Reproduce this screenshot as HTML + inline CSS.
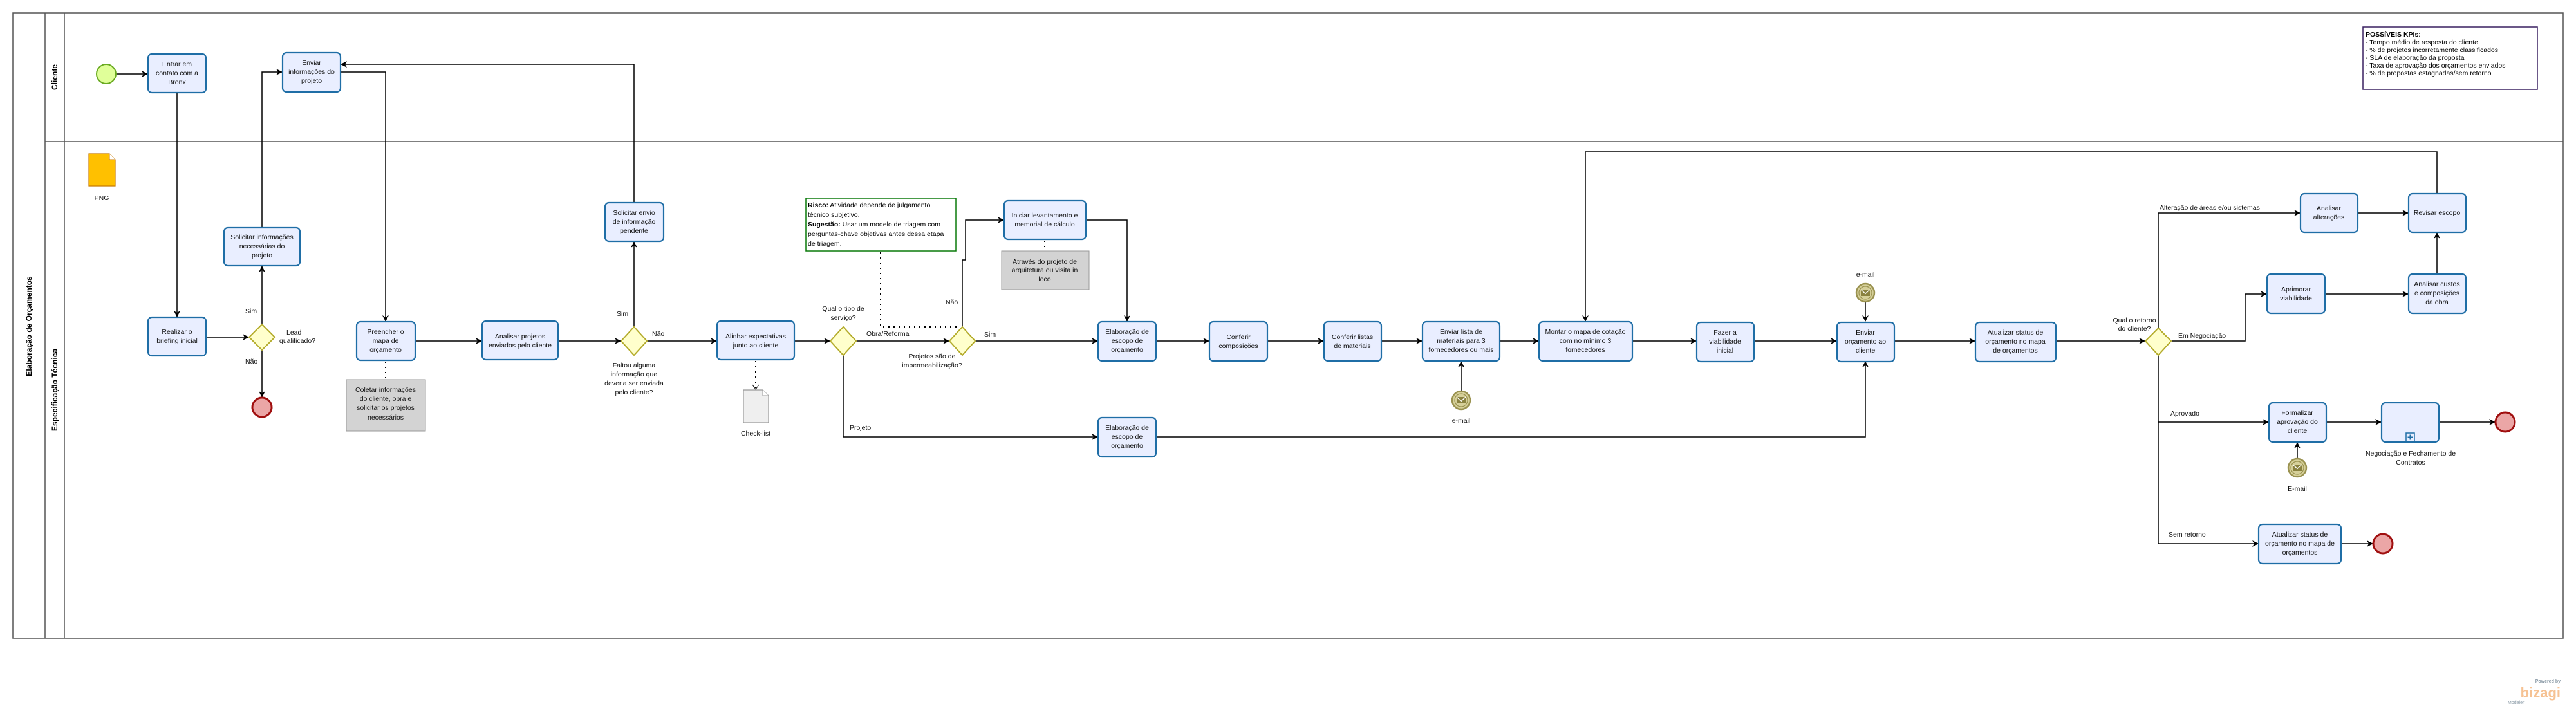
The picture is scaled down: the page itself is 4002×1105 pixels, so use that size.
<!DOCTYPE html>
<html><head><meta charset="utf-8"><style>
html,body{margin:0;padding:0;background:#fff;}
svg{display:block;font-family:"Liberation Sans",sans-serif;}
.t{fill:#e9eeff;stroke:#1f6ea6;stroke-width:2.2;}
.g{fill:#ffffcc;stroke:#b3ab2a;stroke-width:2;}
.c{fill:none;stroke:#000;stroke-width:1.5;}
.d{fill:none;stroke:#000;stroke-width:2;stroke-dasharray:2,6;}
.lbl{font-size:10.5px;fill:#111;}
.bt{font-size:10.5px;fill:#111;text-anchor:middle;}
.note{fill:#d3d3d3;stroke:#999;stroke-width:1;}
</style></head><body>
<svg width="4002" height="1105" viewBox="0 0 4002 1105" xmlns="http://www.w3.org/2000/svg">
<defs>
<marker id="a" markerWidth="10" markerHeight="10" refX="9" refY="5" orient="auto" markerUnits="userSpaceOnUse">
<path d="M0,0 L10,5 L0,10 L3,5 Z" fill="#000"/></marker>
<g id="env"><circle r="14" fill="#d6d09a" stroke="#9a9250" stroke-width="2.5"/><circle r="10" fill="none" stroke="#9a9250" stroke-width="1.2"/><rect x="-7" y="-5" width="14" height="10" fill="#8a8240"/><path d="M-7,-5 L0,1.5 L7,-5" stroke="#fff" fill="none" stroke-width="1.2"/></g>
</defs>

<rect x="20" y="20" width="3962" height="972" fill="none" stroke="#555" stroke-width="1.5"/>
<line x1="70" y1="20" x2="70" y2="992" stroke="#555" stroke-width="1.5"/>
<line x1="100" y1="20" x2="100" y2="992" stroke="#555" stroke-width="1.5"/>
<line x1="70" y1="220" x2="3982" y2="220" stroke="#555" stroke-width="1.5"/>
<text transform="translate(49,507) rotate(-90)" text-anchor="middle" font-size="12" font-weight="bold">Elaboração de Orçamentos</text>
<text transform="translate(89,120) rotate(-90)" text-anchor="middle" font-size="12" font-weight="bold">Cliente</text>
<text transform="translate(89,606) rotate(-90)" text-anchor="middle" font-size="12" font-weight="bold">Especificação Técnica</text>

<rect x="3671" y="42" width="271" height="97" fill="#fff" stroke="#3a2060" stroke-width="1.5"/>
<text x="3675" y="57" font-size="10.5" font-weight="bold">POSSÍVEIS KPIs:</text>
<text x="3675" y="69" font-size="10.5">- Tempo médio de resposta do cliente</text>
<text x="3675" y="81" font-size="10.5">- % de projetos incorretamente classificados</text>
<text x="3675" y="93" font-size="10.5">- SLA de elaboração da proposta</text>
<text x="3675" y="105" font-size="10.5">- Taxa de aprovação dos orçamentos enviados</text>
<text x="3675" y="117" font-size="10.5">- % de propostas estagnadas/sem retorno</text>

<path class="c" d="M180,115 L229,115" marker-end="url(#a)"/>
<path class="c" d="M275,144 L275,492" marker-end="url(#a)"/>
<path class="c" d="M320,524 L386,524" marker-end="url(#a)"/>
<path class="c" d="M407,504 L407,414" marker-end="url(#a)"/>
<path class="c" d="M407,544 L407,617" marker-end="url(#a)"/>
<path class="c" d="M407,354 L407,112 L438,112" marker-end="url(#a)"/>
<path class="c" d="M529,112 L599,112 L599,499" marker-end="url(#a)"/>
<path class="c" d="M645,530 L748,530" marker-end="url(#a)"/>
<path class="c" d="M867,530 L964,530" marker-end="url(#a)"/>
<path class="c" d="M985,508 L985,376" marker-end="url(#a)"/>
<path class="c" d="M985,315 L985,100 L530,100" marker-end="url(#a)"/>
<path class="c" d="M1005,530 L1113,530" marker-end="url(#a)"/>
<path class="c" d="M1234,530 L1289,530" marker-end="url(#a)"/>
<path class="c" d="M1330,530 L1474,530" marker-end="url(#a)"/>
<path class="c" d="M1495,508 L1495,404 L1500,404 L1500,342 L1559,342" marker-end="url(#a)"/>
<path class="c" d="M1687,342 L1751,342 L1751,499" marker-end="url(#a)"/>
<path class="c" d="M1515,530 L1705,530" marker-end="url(#a)"/>
<path class="c" d="M1796,530 L1878,530" marker-end="url(#a)"/>
<path class="c" d="M1969,530 L2056,530" marker-end="url(#a)"/>
<path class="c" d="M2146,530 L2209,530" marker-end="url(#a)"/>
<path class="c" d="M2330,530 L2390,530" marker-end="url(#a)"/>
<path class="c" d="M2536,530 L2635,530" marker-end="url(#a)"/>
<path class="c" d="M2725,530 L2853,530" marker-end="url(#a)"/>
<path class="c" d="M2943,530 L3068,530" marker-end="url(#a)"/>
<path class="c" d="M3194,530 L3332,530" marker-end="url(#a)"/>
<path class="c" d="M2270,608 L2270,562" marker-end="url(#a)"/>
<path class="c" d="M2898,469 L2898,499" marker-end="url(#a)"/>
<path class="c" d="M1310,550 L1310,679 L1705,679" marker-end="url(#a)"/>
<path class="c" d="M1796,679 L2898,679 L2898,562" marker-end="url(#a)"/>
<path class="c" d="M3353,510 L3353,331 L3573,331" marker-end="url(#a)"/>
<path class="c" d="M3663,331 L3741,331" marker-end="url(#a)"/>
<path class="c" d="M3786,426 L3786,362" marker-end="url(#a)"/>
<path class="c" d="M3786,301 L3786,236 L2463,236 L2463,499" marker-end="url(#a)"/>
<path class="c" d="M3374,530 L3488,530 L3488,457 L3521,457" marker-end="url(#a)"/>
<path class="c" d="M3612,457 L3741,457" marker-end="url(#a)"/>
<path class="c" d="M3353,552 L3353,845 L3508,845" marker-end="url(#a)"/>
<path class="c" d="M3353,656 L3524,656" marker-end="url(#a)"/>
<path class="c" d="M3614,656 L3699,656" marker-end="url(#a)"/>
<path class="c" d="M3789,656 L3876,656" marker-end="url(#a)"/>
<path class="c" d="M3569,713 L3569,688" marker-end="url(#a)"/>
<path class="c" d="M3637,845 L3686,845" marker-end="url(#a)"/>

<path class="d" d="M599,562 L599,590"/>
<path class="d" d="M1174,561 L1174,604"/>
<path d="M1169,598 L1174,605 L1179,598" fill="none" stroke="#000"/>
<path class="d" d="M1368,392 L1368,508 L1490,508"/>
<path class="d" d="M1623,374 L1623,390"/>

<circle cx="165" cy="115" r="15" fill="#e0ff99" stroke="#6aaa22" stroke-width="2"/>
<circle cx="407" cy="633" r="15" fill="#eba6a6" stroke="#a00f0f" stroke-width="3"/>
<circle cx="3892" cy="656" r="15" fill="#eba6a6" stroke="#a00f0f" stroke-width="3"/>
<circle cx="3702" cy="845" r="15" fill="#eba6a6" stroke="#a00f0f" stroke-width="3"/>
<use href="#env" x="2270" y="622"/>
<use href="#env" x="2898" y="455"/>
<use href="#env" x="3569" y="727"/>
<text class="bt" x="2270" y="657">e-mail</text>
<text class="bt" x="2898" y="430">e-mail</text>
<text class="bt" x="3569" y="763">E-mail</text>

<path class="g" d="M407,504 L427,524 L407,544 L387,524 Z"/>
<path class="g" d="M985,508 L1005,530 L985,552 L965,530 Z"/>
<path class="g" d="M1310,508 L1330,530 L1310,552 L1290,530 Z"/>
<path class="g" d="M1495,508 L1515,530 L1495,552 L1475,530 Z"/>
<path class="g" d="M3353,510 L3373,530 L3353,552 L3333,530 Z"/>

<path d="M138,239 L170,239 L179,248 L179,289 L138,289 Z" fill="#ffc000" stroke="#c87a00" stroke-width="1.2"/>
<path d="M170,239 L170,248 L179,248" fill="#fff" stroke="#c87a00"/>
<text class="bt" x="158" y="311">PNG</text>
<path d="M1155,606 L1185,606 L1194,615 L1194,657 L1155,657 Z" fill="#efefef" stroke="#999" stroke-width="1.2"/>
<path d="M1185,606 L1185,615 L1194,615" fill="#fff" stroke="#999"/>
<text class="bt" x="1174" y="677">Check-list</text>

<rect class="note" x="538" y="590" width="123" height="80"/>
<text class="bt" fill="#333"><tspan x="599" y="609">Coletar informações</tspan><tspan x="599" y="623">do cliente, obra e</tspan><tspan x="599" y="637">solicitar os projetos</tspan><tspan x="599" y="652">necessários</tspan></text>
<rect class="note" x="1556" y="390" width="136" height="60"/>
<text class="bt"><tspan x="1623" y="410">Através do projeto de</tspan><tspan x="1623" y="423">arquitetura ou visita in</tspan><tspan x="1623" y="437">loco</tspan></text>
<rect x="1252" y="308" width="233" height="82" fill="#fff" stroke="#0a7a0a" stroke-width="1.5"/>
<text font-size="10.5"><tspan x="1255" y="322"><tspan font-weight="bold">Risco:</tspan> Atividade depende de julgamento</tspan><tspan x="1255" y="337">técnico subjetivo.</tspan><tspan x="1255" y="352"><tspan font-weight="bold">Sugestão:</tspan> Usar um modelo de triagem com</tspan><tspan x="1255" y="367">perguntas-chave objetivas antes dessa etapa</tspan><tspan x="1255" y="382">de triagem.</tspan></text>

<rect class="t" x="230" y="84" width="90" height="60" rx="6"/>
<text class="bt"><tspan x="275" y="103">Entrar em</tspan><tspan x="275" y="117">contato com a</tspan><tspan x="275" y="131">Bronx</tspan></text>
<rect class="t" x="439" y="82" width="90" height="61" rx="6"/>
<text class="bt"><tspan x="484" y="101">Enviar</tspan><tspan x="484" y="115">informações do</tspan><tspan x="484" y="129">projeto</tspan></text>
<rect class="t" x="348" y="354" width="118" height="59" rx="6"/>
<text class="bt"><tspan x="407" y="372">Solicitar informações</tspan><tspan x="407" y="386">necessárias do</tspan><tspan x="407" y="400">projeto</tspan></text>
<rect class="t" x="230" y="493" width="90" height="60" rx="6"/>
<text class="bt"><tspan x="275" y="519">Realizar o</tspan><tspan x="275" y="533">briefing inicial</tspan></text>
<rect class="t" x="554" y="500" width="91" height="60" rx="6"/>
<text class="bt"><tspan x="599" y="519">Preencher o</tspan><tspan x="599" y="533">mapa de</tspan><tspan x="599" y="547">orçamento</tspan></text>
<rect class="t" x="749" y="499" width="118" height="60" rx="6"/>
<text class="bt"><tspan x="808" y="526">Analisar projetos</tspan><tspan x="808" y="540">enviados pelo cliente</tspan></text>
<rect class="t" x="940" y="315" width="91" height="60" rx="6"/>
<text class="bt"><tspan x="985" y="334">Solicitar envio</tspan><tspan x="985" y="348">de informação</tspan><tspan x="985" y="362">pendente</tspan></text>
<rect class="t" x="1114" y="499" width="120" height="60" rx="6"/>
<text class="bt"><tspan x="1174" y="526">Alinhar expectativas</tspan><tspan x="1174" y="540">junto ao cliente</tspan></text>
<rect class="t" x="1560" y="312" width="127" height="60" rx="6"/>
<text class="bt"><tspan x="1623" y="338">Iniciar levantamento e</tspan><tspan x="1623" y="352">memorial de cálculo</tspan></text>
<rect class="t" x="1706" y="500" width="90" height="61" rx="6"/>
<text class="bt"><tspan x="1751" y="519">Elaboração de</tspan><tspan x="1751" y="533">escopo de</tspan><tspan x="1751" y="547">orçamento</tspan></text>
<rect class="t" x="1706" y="649" width="90" height="61" rx="6"/>
<text class="bt"><tspan x="1751" y="668">Elaboração de</tspan><tspan x="1751" y="682">escopo de</tspan><tspan x="1751" y="696">orçamento</tspan></text>
<rect class="t" x="1879" y="500" width="90" height="61" rx="6"/>
<text class="bt"><tspan x="1924" y="527">Conferir</tspan><tspan x="1924" y="541">composições</tspan></text>
<rect class="t" x="2057" y="500" width="89" height="61" rx="6"/>
<text class="bt"><tspan x="2101" y="527">Conferir listas</tspan><tspan x="2101" y="541">de materiais</tspan></text>
<rect class="t" x="2210" y="500" width="120" height="61" rx="6"/>
<text class="bt"><tspan x="2270" y="519">Enviar lista de</tspan><tspan x="2270" y="533">materiais para 3</tspan><tspan x="2270" y="547">fornecedores ou mais</tspan></text>
<rect class="t" x="2391" y="500" width="145" height="61" rx="6"/>
<text class="bt"><tspan x="2463" y="519">Montar o mapa de cotação</tspan><tspan x="2463" y="533">com no mínimo 3</tspan><tspan x="2463" y="547">fornecedores</tspan></text>
<rect class="t" x="2636" y="501" width="89" height="61" rx="6"/>
<text class="bt"><tspan x="2680" y="520">Fazer a</tspan><tspan x="2680" y="534">viabilidade</tspan><tspan x="2680" y="548">inicial</tspan></text>
<rect class="t" x="2854" y="501" width="89" height="61" rx="6"/>
<text class="bt"><tspan x="2898" y="520">Enviar</tspan><tspan x="2898" y="534">orçamento ao</tspan><tspan x="2898" y="548">cliente</tspan></text>
<rect class="t" x="3069" y="501" width="125" height="61" rx="6"/>
<text class="bt"><tspan x="3131" y="520">Atualizar status de</tspan><tspan x="3131" y="534">orçamento no mapa</tspan><tspan x="3131" y="548">de orçamentos</tspan></text>
<rect class="t" x="3574" y="301" width="89" height="60" rx="6"/>
<text class="bt"><tspan x="3618" y="327">Analisar</tspan><tspan x="3618" y="341">alterações</tspan></text>
<rect class="t" x="3742" y="301" width="89" height="60" rx="6"/>
<text class="bt"><tspan x="3786" y="334">Revisar escopo</tspan></text>
<rect class="t" x="3522" y="426" width="90" height="61" rx="6"/>
<text class="bt"><tspan x="3567" y="453">Aprimorar</tspan><tspan x="3567" y="467">viabilidade</tspan></text>
<rect class="t" x="3742" y="426" width="89" height="61" rx="6"/>
<text class="bt"><tspan x="3786" y="445">Analisar custos</tspan><tspan x="3786" y="459">e composições</tspan><tspan x="3786" y="473">da obra</tspan></text>
<rect class="t" x="3525" y="626" width="89" height="61" rx="6"/>
<text class="bt"><tspan x="3569" y="645">Formalizar</tspan><tspan x="3569" y="659">aprovação do</tspan><tspan x="3569" y="673">cliente</tspan></text>
<rect class="t" x="3700" y="626" width="89" height="61" rx="6"/>
<rect x="3738" y="673" width="13" height="13" fill="#e9eeff" stroke="#1f6ea6" stroke-width="1.5"/>
<path d="M3744.5,675.5 V683.5 M3740.5,679.5 H3748.5" stroke="#1f6ea6" stroke-width="2"/>
<text class="bt"><tspan x="3745" y="708">Negociação e Fechamento de</tspan><tspan x="3745" y="722">Contratos</tspan></text>
<rect class="t" x="3509" y="815" width="128" height="61" rx="6"/>
<text class="bt"><tspan x="3573" y="834">Atualizar status de</tspan><tspan x="3573" y="848">orçamento no mapa de</tspan><tspan x="3573" y="862">orçamentos</tspan></text>

<text class="lbl" x="381" y="487">Sim</text>
<text class="lbl" x="445" y="520">Lead</text>
<text class="lbl" x="434" y="533">qualificado?</text>
<text class="lbl" x="381" y="565">Não</text>
<text class="lbl" x="958" y="491">Sim</text>
<text class="lbl" x="1013" y="522">Não</text>
<text class="bt"><tspan x="985" y="571">Faltou alguma</tspan><tspan x="985" y="585">informação que</tspan><tspan x="985" y="599">deveria ser enviada</tspan><tspan x="985" y="613">pelo cliente?</tspan></text>
<text class="bt"><tspan x="1310" y="483">Qual o tipo de</tspan><tspan x="1310" y="497">serviço?</tspan></text>
<text class="lbl" x="1346" y="522">Obra/Reforma</text>
<text class="lbl" x="1469" y="473">Não</text>
<text class="lbl" x="1529" y="523">Sim</text>
<text class="bt"><tspan x="1448" y="557">Projetos são de</tspan><tspan x="1448" y="571">impermeabilização?</tspan></text>
<text class="lbl" x="1320" y="668">Projeto</text>
<text class="bt"><tspan x="3316" y="501">Qual o retorno</tspan><tspan x="3316" y="514">do cliente?</tspan></text>
<text class="lbl" x="3384" y="525">Em Negociação</text>
<text class="lbl" x="3355" y="326">Alteração de áreas e/ou sistemas</text>
<text class="lbl" x="3372" y="646">Aprovado</text>
<text class="lbl" x="3369" y="834">Sem retorno</text>

<text x="3978" y="1061" text-anchor="end" font-size="7" fill="#8a9aa6" font-weight="bold">Powered by</text>
<text x="3978" y="1084" text-anchor="end" font-size="22" fill="#f6c293" font-weight="bold">bizagi</text>
<text x="3896" y="1094" font-size="7" fill="#8a9aa6">Modeler</text>
</svg>
</body></html>
